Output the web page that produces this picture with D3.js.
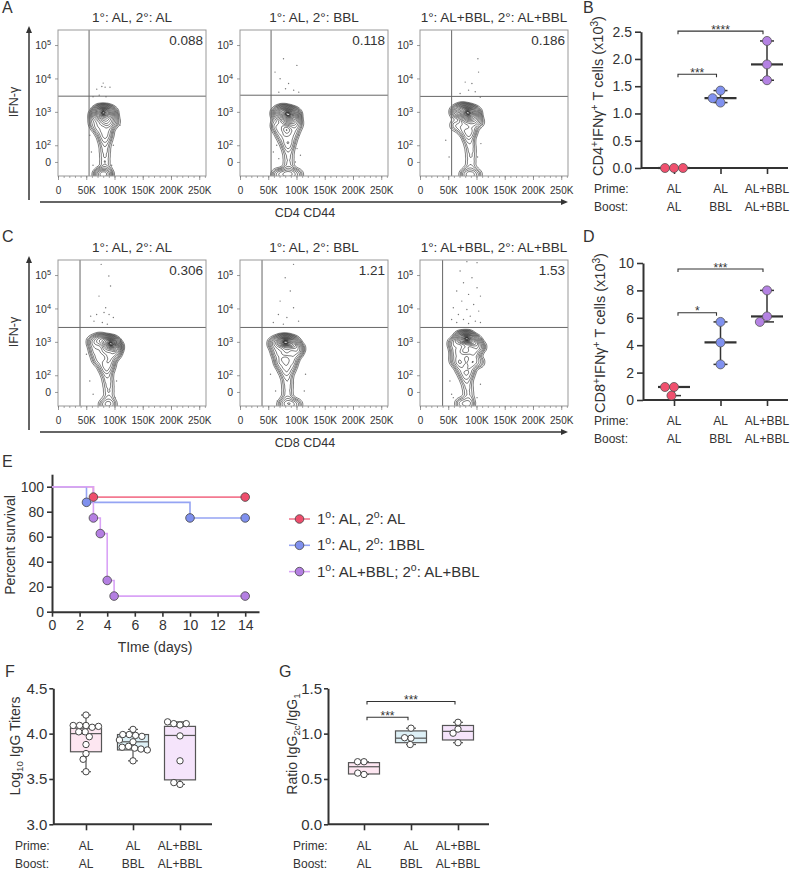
<!DOCTYPE html>
<html>
<head>
<meta charset="utf-8">
<script src="https://cdn.jsdelivr.net/npm/d3@7"></script>
<style>
  body { margin: 0; background: #fff; }
  text { font-family: "Liberation Sans", Arial, sans-serif; fill: #333; }
</style>
</head>
<body>
<svg id="fig" width="800" height="871"></svg>
<script>
// ---------------- data ----------------
const flowTitles = ["1°: AL, 2°: AL", "1°: AL, 2°: BBL", "1°: AL+BBL, 2°: AL+BBL"];
const flowXTicks = [0, 50, 100, 150, 200, 250];          // CD44, in K
const flowYTicks = [0, 1e2, 1e3, 1e4, 1e5];               // IFN-γ
const contourLevels = [0.04, 0.07, 0.1, 0.14, 0.19, 0.25, 0.32, 0.4, 0.48, 0.56, 0.64, 0.72, 0.79, 0.85, 0.9, 0.935, 0.955, 0.97, 0.983];

const cd4Freq = ["0.088", "0.118", "0.186"];
const cd8Freq = ["0.306", "1.21", "1.53"];
const cd4GateX = [55, 55, 56];
const cd4GateY = [2950, 3150, 2900];
const cd8GateX = [39, 39, 40];
const cd8GateY = [2700, 2700, 2700];

// density anchors: [CD44 (K), log10 IFN-γ, weight]
const cd4Anchors = [
  [[74,3.0,8],[84,3.0,10],[94,2.95,6],[66,2.9,4],[80,2.75,6],[90,2.7,4],[64,2.65,2],[100,2.7,2],[72,2.5,2.5],[88,2.5,2.5],
   [78,2.35,1.6],[88,2.35,1.6],[80,2.2,1.4],[87,2.2,1.2],[83,2.05,1.2],[83,1.9,1],[83,1.75,0.9],[83,1.6,0.8],[83,1.45,0.8],[83,1.3,1],
   [72,1.12,3],[80,1.12,4],[88,1.12,3]],
  [[66,2.95,4],[76,3.0,8],[87,2.95,10],[97,2.9,6],[80,2.75,5],[92,2.7,4],[64,2.6,2],[102,2.65,2],
   [70,2.45,2],[96,2.45,2],[74,2.3,1.6],[92,2.3,1.6],[78,2.15,1.4],[90,2.15,1.4],[82,2.0,1.2],[88,2.0,1.2],[85,1.85,1],[86,1.7,0.9],[86,1.55,0.8],[86,1.4,0.8],[86,1.27,1],
   [66,1.12,2.5],[78,1.12,3.5],[90,1.12,3.5],[102,1.12,2]],
  [[64,3.0,4],[75,3.05,8],[86,3.0,11],[97,2.95,6],[82,2.8,6],[94,2.75,4],[63,2.6,2],[104,2.7,2],[76,2.5,2.5],[92,2.5,2.5],
   [82,2.35,1.8],[90,2.35,1.6],[86,2.2,1.5],[88,2.05,1.2],[90,1.9,1],[90,1.75,0.9],[90,1.6,0.8],[90,1.45,0.8],[89,1.3,1],
   [80,1.12,2.5],[90,1.1,3],[100,1.12,2]]
];
const cd8Anchors = [
  [[62,3.0,3],[74,3.05,5],[86,3.0,7],[96,2.95,10],[104,2.85,5],[66,2.75,3],[84,2.75,5],[100,2.65,4],[70,2.5,2.5],[90,2.5,3],
   [78,2.35,1.8],[92,2.35,1.8],[82,2.2,1.5],[90,2.2,1.5],[86,2.05,1.2],[88,1.9,1],[89,1.75,0.9],[90,1.6,0.8],[90,1.45,0.7],[90,1.3,0.8],
   [82,1.12,2],[94,1.12,2]],
  [[60,2.95,3],[72,3.0,6],[82,3.0,10],[94,2.95,7],[104,2.8,3],[66,2.7,3],[82,2.7,5],[98,2.65,3],[70,2.45,2.5],[92,2.45,2.5],
   [74,2.3,1.8],[90,2.3,1.6],[78,2.15,1.5],[88,2.15,1.3],[82,2.0,1.2],[84,1.85,1],[84,1.7,0.9],[84,1.55,0.8],[84,1.4,0.8],[84,1.27,0.9],
   [76,1.12,2],[88,1.12,3],[100,1.12,2]],
  [[60,2.95,3],[72,3.1,7],[84,3.1,12],[96,3.0,7],[106,2.85,3],[64,2.7,3],[80,2.75,6],[96,2.7,4],[62,2.45,2],[74,2.45,3],[92,2.45,3],[104,2.4,2],
   [70,2.3,1.8],[90,2.3,1.8],[74,2.15,1.6],[88,2.15,1.6],[78,2.0,1.3],[86,2.0,1.3],[82,1.85,1.1],[84,1.7,0.9],[85,1.55,0.8],[86,1.4,0.7],[86,1.27,0.8],
   [72,1.15,2],[86,1.12,2.5]]
];
// sparse single events: [CD44 (K), log10 IFN-γ]
const cd4Events = [
  [[77.6,3.76],[83.4,3.74],[68.6,3.68],[92,3.74],[73,3.5],[85,3.45],[62,3.45],[80,3.86],[56.3,2.3],[109.7,2.6],[59.2,1.8],[98,2.0],[95,1.4],[62,1.4],[106.7,2.8],[57,2.6]],
  [[77,4.59],[100.7,4.39],[62,4.19],[71,3.99],[86,3.85],[95,3.65],[104,3.59],[68.7,3.59],[80.6,3.69],[62,2.4],[65,2.0],[68.7,1.6],[104,2.3],[101,1.9],[98,1.5],[71,1.3],[95,1.3],[59,1.8],[107,1.7]],
  [[102.5,4.59],[103.7,4.19],[91.9,3.85],[80,3.89],[86,3.65],[71,3.55],[97.8,3.6],[106.7,3.44],[45.6,2.15],[107.8,2.05],[51.5,1.65],[101.9,1.65]]
];
const cd8Events = [
  [[76.4,5.32],[90,4.97],[93,4.67],[72.6,4.37],[57.8,3.77],[68.4,3.82],[81.5,3.88],[90.4,3.82],[98,3.73],[84.4,4.02],[63.7,3.62],[78.5,3.58],[87.4,3.53],[50.4,2.63],[112.6,2.63],[56.3,1.83],[103.7,1.83],[62.2,1.43],[101,1.33]],
  [[94.8,5.32],[80,4.92],[89,4.52],[71,4.22],[94.8,4.02],[68,3.82],[83,3.73],[103.7,3.62],[59,3.58],[76.8,3.53],[54,2.03],[116,2.03],[63,1.53],[113.8,1.53],[66,1.23]],
  [[83,5.4],[101,5.37],[71,5.12],[92,4.92],[77,4.77],[101,4.62],[65,4.52],[86,4.42],[107,4.37],[74,4.22],[95,4.12],[59,4.02],[83,3.97],[104,3.92],[68,3.82],[89,3.77],[56,3.67],[77,3.67],[98,3.62],[65,3.58],[107,3.58],[86,3.55],[53,1.83],[56,1.43],[107,1.73],[101,1.33],[59,1.33]]
];

const groupKeys = ["g1", "g2", "g3"];
const primeLabels = ["AL", "AL", "AL+BBL"];
const boostLabels = ["AL", "BBL", "AL+BBL"];
const groupColors = ["#f0506e", "#8091ef", "#b482e3"];

const cd4Counts = [[0, 0, 0], [1.42, 1.20, 1.28], [2.33, 1.90, 1.61]];
const cd8Counts = [[0.95, 0.32, 0.95], [5.7, 4.2, 2.6], [8.0, 6.1, 5.7]];
const cd4Sig = [[0, 1, 1.72, "***"], [0, 2, 2.51, "****"]];
const cd8Sig = [[0, 1, 6.37, "*"], [0, 2, 9.56, "***"]];

const survNames = ["1^{o}: AL, 2^{o}: AL", "1^{o}: AL, 2^{o}: 1BBL", "1^{o}: AL+BBL; 2^{o}: AL+BBL"];
const survTimes = [[0, 3, 14], [0, 2.5, 10, 14], [0, 3, 3.5, 4, 4.5, 14]];
const survPct = [[100, 91.7, 91.7], [100, 87.5, 75, 75], [100, 75, 62.5, 25, 12.5, 12.5]];
const survLineColors = ["#f37a91", "#95a4f3", "#d9a3f6"];
const survDotColors = ["#ee4d6c", "#7f90ee", "#b47fe2"];

const boxFills = ["#fde6f1", "#ddf0f6", "#f5e4fb"];
// [min, q1, median, q3, max]
const titerStats = [[3.58, 3.80, 4.00, 4.06, 4.205], [3.70, 3.82, 3.91, 3.99, 4.047], [3.44, 3.49, 3.98, 4.08, 4.13]];
const titerVals = [
  [4.205, 4.09, 4.09, 4.07, 4.08, 4.09, 4.02, 4.02, 3.966, 3.88, 3.78, 3.717, 3.58],
  [4.047, 3.99, 3.98, 3.97, 3.99, 3.93, 3.91, 3.86, 3.84, 3.83, 3.85, 3.82, 3.70],
  [4.095, 4.11, 4.11, 4.13, 3.975, 3.70, 3.44, 3.46]
];
const ratioStats = [[0.55, 0.555, 0.635, 0.68, 0.69], [0.88, 0.90, 0.95, 1.03, 1.06], [0.90, 0.93, 1.025, 1.09, 1.125]];
const ratioVals = [[0.69, 0.69, 0.55, 0.565], [1.06, 0.95, 0.955, 0.88], [1.125, 1.05, 1.005, 0.90]];
const ratioSig = [[0, 1, 1.18, "***"], [0, 2, 1.355, "***"]];

// ---------------- helpers ----------------
const svg = d3.select("#fig");
const INK = "#333";

// text with ^{sup} and _{sub} runs
function rich(sel, str, size) {
  str.split(/(\^\{[^}]*\}|_\{[^}]*\})/).filter(s => s).forEach(p => {
    if (p.startsWith("^{")) sel.append("tspan").attr("baseline-shift", size * 0.38).attr("font-size", size * 0.7).text(p.slice(2, -1));
    else if (p.startsWith("_{")) sel.append("tspan").attr("baseline-shift", -size * 0.2).attr("font-size", size * 0.7).text(p.slice(2, -1));
    else sel.append("tspan").text(p);
  });
  return sel;
}

function label(x, y, str, size, anchor) {
  const t = svg.append("text").attr("x", x).attr("y", y).attr("font-size", size).attr("text-anchor", anchor || "start");
  return rich(t, str, size);
}

function styleAxis(g, fs, sw, col) {
  g.attr("font-family", null);
  g.select(".domain").attr("stroke", col || INK).attr("stroke-width", sw);
  g.selectAll(".tick line").attr("stroke", col || INK).attr("stroke-width", sw * 0.8);
  g.selectAll(".tick text").attr("font-size", fs).attr("fill", INK);
}

// beeswarm offsets so circles of radius r don't overlap
function swarm(vals, y, r) {
  const placed = [];
  return vals.map(v => {
    const py = y(v);
    const blocks = placed.filter(p => Math.abs(p[1] - py) < 2 * r)
      .map(p => { const w = Math.sqrt(4 * r * r - (p[1] - py) ** 2); return [p[0] - w, p[0] + w]; });
    const cands = [0].concat(...blocks.map(b => [b[0] - 0.01, b[1] + 0.01]));
    const ok = cands.filter(c => blocks.every(b => c <= b[0] || c >= b[1]))
      .sort((a, b) => Math.abs(a) - Math.abs(b));
    const off = ok[0];
    placed.push([off, py]);
    return { off, py, v };
  });
}

function panelLetter(x, y, s) {
  svg.append("text").attr("x", x).attr("y", y).attr("font-size", 16).attr("fill", "#222").text(s);
}

// ---------------- flow plots ----------------
const flowLeft = [58, 240, 420], flowW = 148, flowH = 146;

function flowRow(top, freqs, gateX, gateY, anchors, events, xTitle) {
  flowLeft.forEach((L, i) => {
    const g = svg.append("g").attr("transform", `translate(${L},${top})`);
    const x = d3.scaleLinear([0, 262], [0, flowW]);
    const y = d3.scaleLinear([1.08, 5.45], [flowH, 0]);
    const dec = v => (v > 0 ? Math.log10(v) : 1.5);
    const cid = `fc${top}_${i}`;
    g.append("clipPath").attr("id", cid).append("rect").attr("width", flowW).attr("height", flowH);
    const body = g.append("g").attr("clip-path", `url(#${cid})`);

    const dens = d3.contourDensity()
      .x(d => x(d[0])).y(d => y(d[1])).weight(d => d[2])
      .size([flowW, flowH]).cellSize(1).bandwidth(3.6);
    const probe = dens.thresholds(300)(anchors[i]);
    const maxV = probe[probe.length - 1].value;
    const cs = dens.thresholds(contourLevels.map(f => f * maxV))(anchors[i]);
    body.selectAll("path.ct").data(cs).join("path")
      .attr("d", d3.geoPath())
      .attr("fill", "none").attr("stroke", "#222").attr("stroke-width", 0.6);

    body.selectAll("circle.ev").data(events[i]).join("circle")
      .attr("cx", d => x(d[0])).attr("cy", d => y(d[1])).attr("r", 0.7).attr("fill", "#777");

    body.append("line").attr("x1", x(gateX[i])).attr("x2", x(gateX[i])).attr("y1", 0).attr("y2", flowH)
      .attr("stroke", "#666").attr("stroke-width", 1);
    body.append("line").attr("x1", 0).attr("x2", flowW).attr("y1", y(dec(gateY[i]))).attr("y2", y(dec(gateY[i])))
      .attr("stroke", "#666").attr("stroke-width", 1);

    g.append("rect").attr("width", flowW).attr("height", flowH).attr("fill", "none").attr("stroke", "#999");

    const minor = g.append("g").attr("transform", `translate(0,${flowH})`)
      .call(d3.axisBottom(x).tickValues(d3.range(0, 261, 10)).tickSize(2).tickFormat(""));
    styleAxis(minor, 10, 0.8, "#777");
    minor.select(".domain").remove();
    const xa = g.append("g").attr("transform", `translate(0,${flowH})`)
      .call(d3.axisBottom(x).tickValues(flowXTicks).tickSize(4).tickPadding(7)
        .tickFormat(d => (d ? d + "K" : "0")));
    styleAxis(xa, 10, 0.9, "#777");
    xa.select(".domain").remove();

    const ya = g.append("g")
      .call(d3.axisLeft(y).tickValues(flowYTicks.map(dec)).tickSize(3).tickFormat(""));
    styleAxis(ya, 10, 0.9, "#777");
    ya.select(".domain").remove();
    ya.selectAll(".tick").each(function (d, k) {
      const t = d3.select(this).append("text").attr("x", -7).attr("dy", "0.35em")
        .attr("text-anchor", "end").attr("font-size", 10.5);
      const v = flowYTicks[k];
      rich(t, v === 0 ? "0" : "10^{" + Math.log10(v) + "}", 10.5);
    });

    g.append("text").attr("x", flowW / 2).attr("y", -8).attr("text-anchor", "middle")
      .attr("font-size", 13.5).text(flowTitles[i]);
    g.append("text").attr("x", flowW - 3).attr("y", 14.5).attr("text-anchor", "end")
      .attr("font-size", 13.5).text(freqs[i]);
  });

  // big axis arrows
  const bottomY = top + flowH + 26;
  svg.append("line").attr("x1", 29).attr("x2", 29).attr("y1", bottomY - 2).attr("y2", top - 1)
    .attr("stroke", INK).attr("stroke-width", 1.5);
  svg.append("path").attr("d", `M29,${top - 4}l-3,7h6z`).attr("fill", INK);
  svg.append("line").attr("x1", 40).attr("x2", 562).attr("y1", bottomY).attr("y2", bottomY)
    .attr("stroke", INK).attr("stroke-width", 1.5);
  svg.append("path").attr("d", `M568,${bottomY}l-7,-3v6z`).attr("fill", INK);
  svg.append("text").attr("transform", `translate(18,${top + 72}) rotate(-90)`)
    .attr("text-anchor", "middle").attr("font-size", 12.5).text("IFN-γ");
  svg.append("text").attr("x", 305).attr("y", bottomY + 15).attr("text-anchor", "middle")
    .attr("font-size", 12.5).text(xTitle);
}

flowRow(30, cd4Freq, cd4GateX, cd4GateY, cd4Anchors, cd4Events, "CD4 CD44");
flowRow(260, cd8Freq, cd8GateX, cd8GateY, cd8Anchors, cd8Events, "CD8  CD44");

// ---------------- category helpers ----------------
function catLabels(x, primeY, labelX) {
  label(labelX, primeY, "Prime:", 12);
  label(labelX, primeY + 18, "Boost:", 12);
  groupKeys.forEach((k, i) => {
    label(x(k), primeY, primeLabels[i], 12, "middle");
    label(x(k), primeY + 18, boostLabels[i], 12, "middle");
  });
}

function brackets(sig, x, y, inset) {
  sig.forEach(([a, b, v, s]) => {
    const yy = y(v), x0 = x(groupKeys[a]) + inset, x1 = x(groupKeys[b]) - inset;
    svg.append("path").attr("d", `M${x0},${yy + 3}V${yy}H${x1}V${yy + 3}`)
      .attr("fill", "none").attr("stroke", INK).attr("stroke-width", 1.1);
    svg.append("text").attr("x", (x0 + x1) / 2).attr("y", yy + 2.5).attr("text-anchor", "middle")
      .attr("font-size", 12).text(s);
  });
}

// ---------------- B / D scatter panels ----------------
function scatterPanel(o) {
  const y = d3.scaleLinear(o.domain, [o.bottom, o.top]);
  const x = d3.scalePoint(groupKeys, [674, 767]);
  const ya = svg.append("g").attr("transform", `translate(${o.axisX},0)`)
    .call(d3.axisLeft(y).tickValues(o.ticks).tickFormat(o.fmt).tickSize(6).tickSizeOuter(0).tickPadding(3));
  styleAxis(ya, 14, 2);
  const xa = svg.append("g").attr("transform", `translate(0,${o.bottom})`)
    .call(d3.axisBottom(x).tickSize(6).tickFormat(""));
  styleAxis(xa, 12, 2);
  xa.select(".domain").attr("d", `M${o.axisX},0H788`);

  const lt = svg.append("text").attr("transform", `translate(${o.axisX - 38},${o.labelY}) rotate(-90)`)
    .attr("text-anchor", "middle").attr("font-size", 14.5);
  rich(lt, o.title, 14.5);

  o.values.forEach((vals, i) => {
    const cx = x(groupKeys[i]);
    const [lo, hi] = d3.extent(vals), med = d3.median(vals);
    svg.append("line").attr("x1", cx).attr("x2", cx).attr("y1", y(lo)).attr("y2", y(hi))
      .attr("stroke", INK).attr("stroke-width", 1.5);
    [lo, hi].forEach(v => svg.append("line").attr("x1", cx - 7).attr("x2", cx + 7)
      .attr("y1", y(v)).attr("y2", y(v)).attr("stroke", INK).attr("stroke-width", 1.5));
    svg.append("line").attr("x1", cx - 16).attr("x2", cx + 16).attr("y1", y(med)).attr("y2", y(med))
      .attr("stroke", INK).attr("stroke-width", 2.2);
    svg.selectAll(null).data(swarm(vals, y, 4.5)).join("circle")
      .attr("cx", d => cx + d.off).attr("cy", d => d.py).attr("r", 4.5)
      .attr("fill", groupColors[i]).attr("stroke", "#555").attr("stroke-width", 0.8);
  });
  brackets(o.sig, x, y, 4);
  catLabels(x, o.bottom + 25, 594);
}

scatterPanel({
  domain: [0, 2.5], bottom: 168, top: 31.7, axisX: 641, labelY: 96,
  ticks: [0, 0.5, 1, 1.5, 2, 2.5], fmt: d3.format(".1f"),
  values: cd4Counts, sig: cd4Sig, title: "CD4^{+}IFNγ^{+} T cells (x10^{3})"
});
scatterPanel({
  domain: [0, 10], bottom: 400, top: 263, axisX: 643, labelY: 333,
  ticks: [0, 2, 4, 6, 8, 10], fmt: d3.format("d"),
  values: cd8Counts, sig: cd8Sig, title: "CD8^{+}IFNγ^{+} T cells (x10^{3})"
});

// ---------------- E survival ----------------
(function () {
  const x = d3.scaleLinear([0, 15], [52, 259]);
  const y = d3.scaleLinear([0, 110], [611.7, 474.2]);
  const xa = svg.append("g").attr("transform", "translate(0,611.7)")
    .call(d3.axisBottom(x).tickValues(d3.range(0, 15, 2)).tickSize(5).tickSizeOuter(0).tickPadding(3));
  styleAxis(xa, 14, 2);
  const ya = svg.append("g").attr("transform", "translate(52,0)")
    .call(d3.axisLeft(y).tickValues(d3.range(0, 101, 20)).tickSize(5).tickSizeOuter(0).tickPadding(3));
  styleAxis(ya, 14, 2);
  label(155, 652, "TIme (days)", 14, "middle");
  svg.append("text").attr("transform", "translate(15,545) rotate(-90)").attr("text-anchor", "middle")
    .attr("font-size", 14).text("Percent survival");

  const line = d3.line().x(d => x(d[0])).y(d => y(d[1])).curve(d3.curveStepAfter);
  survTimes.forEach((ts, s) => {
    const pts = ts.map((t, k) => [t, survPct[s][k]]);
    svg.append("path").attr("d", line(pts)).attr("fill", "none")
      .attr("stroke", survLineColors[s]).attr("stroke-width", 1.6);
  });
  survTimes.forEach((ts, s) => {
    svg.selectAll(null).data(ts.slice(1).map((t, k) => [t, survPct[s][k + 1]])).join("circle")
      .attr("cx", d => x(d[0])).attr("cy", d => y(d[1])).attr("r", 4.3)
      .attr("fill", survDotColors[s]).attr("stroke", "#444").attr("stroke-width", 0.8);
  });
  survNames.forEach((n, s) => {
    const yy = 519 + s * 26.3;
    svg.append("line").attr("x1", 289).attr("x2", 310).attr("y1", yy).attr("y2", yy)
      .attr("stroke", survLineColors[s]).attr("stroke-width", 1.6);
    svg.append("circle").attr("cx", 299.5).attr("cy", yy).attr("r", 4.3)
      .attr("fill", survDotColors[s]).attr("stroke", "#444").attr("stroke-width", 0.8);
    label(317, yy + 5, n, 15);
  });
})();

// ---------------- F / G box panels ----------------
function boxPanel(o) {
  const y = d3.scaleLinear(o.domain, [824.3, 688.3]);
  const x = d3.scalePoint(groupKeys, o.cats);
  const ya = svg.append("g").attr("transform", `translate(${o.axisX},0)`)
    .call(d3.axisLeft(y).tickValues(o.ticks).tickFormat(d3.format(".1f")).tickSize(4).tickSizeOuter(0).tickPadding(2));
  styleAxis(ya, 15, 2);
  const xa = svg.append("g").attr("transform", "translate(0,824.3)")
    .call(d3.axisBottom(x).tickSize(6).tickFormat(""));
  styleAxis(xa, 12, 2);
  xa.select(".domain").attr("d", `M${o.axisX},0H${o.right}`);

  const lt = svg.append("text").attr("transform", `translate(${o.labelX},${o.labelY}) rotate(-90)`)
    .attr("text-anchor", "middle").attr("font-size", 14);
  rich(lt, o.title, 14);

  o.stats.forEach(([mn, q1, md, q3, mx], i) => {
    const cx = x(groupKeys[i]), hw = 15.5;
    const stroke = "#555";
    [[mn, q1], [q3, mx]].forEach(([a, b]) => svg.append("line").attr("x1", cx).attr("x2", cx)
      .attr("y1", y(a)).attr("y2", y(b)).attr("stroke", stroke).attr("stroke-width", 1.2));
    [mn, mx].forEach(v => svg.append("line").attr("x1", cx - 5).attr("x2", cx + 5)
      .attr("y1", y(v)).attr("y2", y(v)).attr("stroke", stroke).attr("stroke-width", 1.2));
    svg.append("rect").attr("x", cx - hw).attr("width", 2 * hw).attr("y", y(q3)).attr("height", y(q1) - y(q3))
      .attr("fill", boxFills[i]).attr("stroke", stroke).attr("stroke-width", 1.2);
    svg.append("line").attr("x1", cx - hw).attr("x2", cx + hw).attr("y1", y(md)).attr("y2", y(md))
      .attr("stroke", stroke).attr("stroke-width", 1.2);
    svg.selectAll(null).data(swarm(o.values[i], y, 3.2)).join("circle")
      .attr("cx", d => cx + d.off).attr("cy", d => d.py).attr("r", 3.2)
      .attr("fill", "#fff").attr("stroke", "#444").attr("stroke-width", 1);
  });
  if (o.sig) brackets(o.sig, x, y, 3);
  catLabels(x, 850, o.primeX);
}

boxPanel({
  domain: [3, 4.5], ticks: [3, 3.5, 4, 4.5], axisX: 53.3, right: 212, cats: [86, 180],
  stats: titerStats, values: titerVals, title: "Log_{10} IgG Titers",
  labelX: 20, labelY: 746, primeX: 15
});
boxPanel({
  domain: [0, 1.5], ticks: [0, 0.5, 1, 1.5], axisX: 328, right: 489, cats: [364, 458],
  stats: ratioStats, values: ratioVals, title: "Ratio IgG_{2c}/IgG_{1}", sig: ratioSig,
  labelX: 297, labelY: 744, primeX: 293
});

panelLetter(2, 13, "A");
panelLetter(583, 13, "B");
panelLetter(2, 242, "C");
panelLetter(583, 242, "D");
panelLetter(2, 467, "E");
panelLetter(5, 677, "F");
panelLetter(279, 677, "G");
</script>
</body>
</html>
